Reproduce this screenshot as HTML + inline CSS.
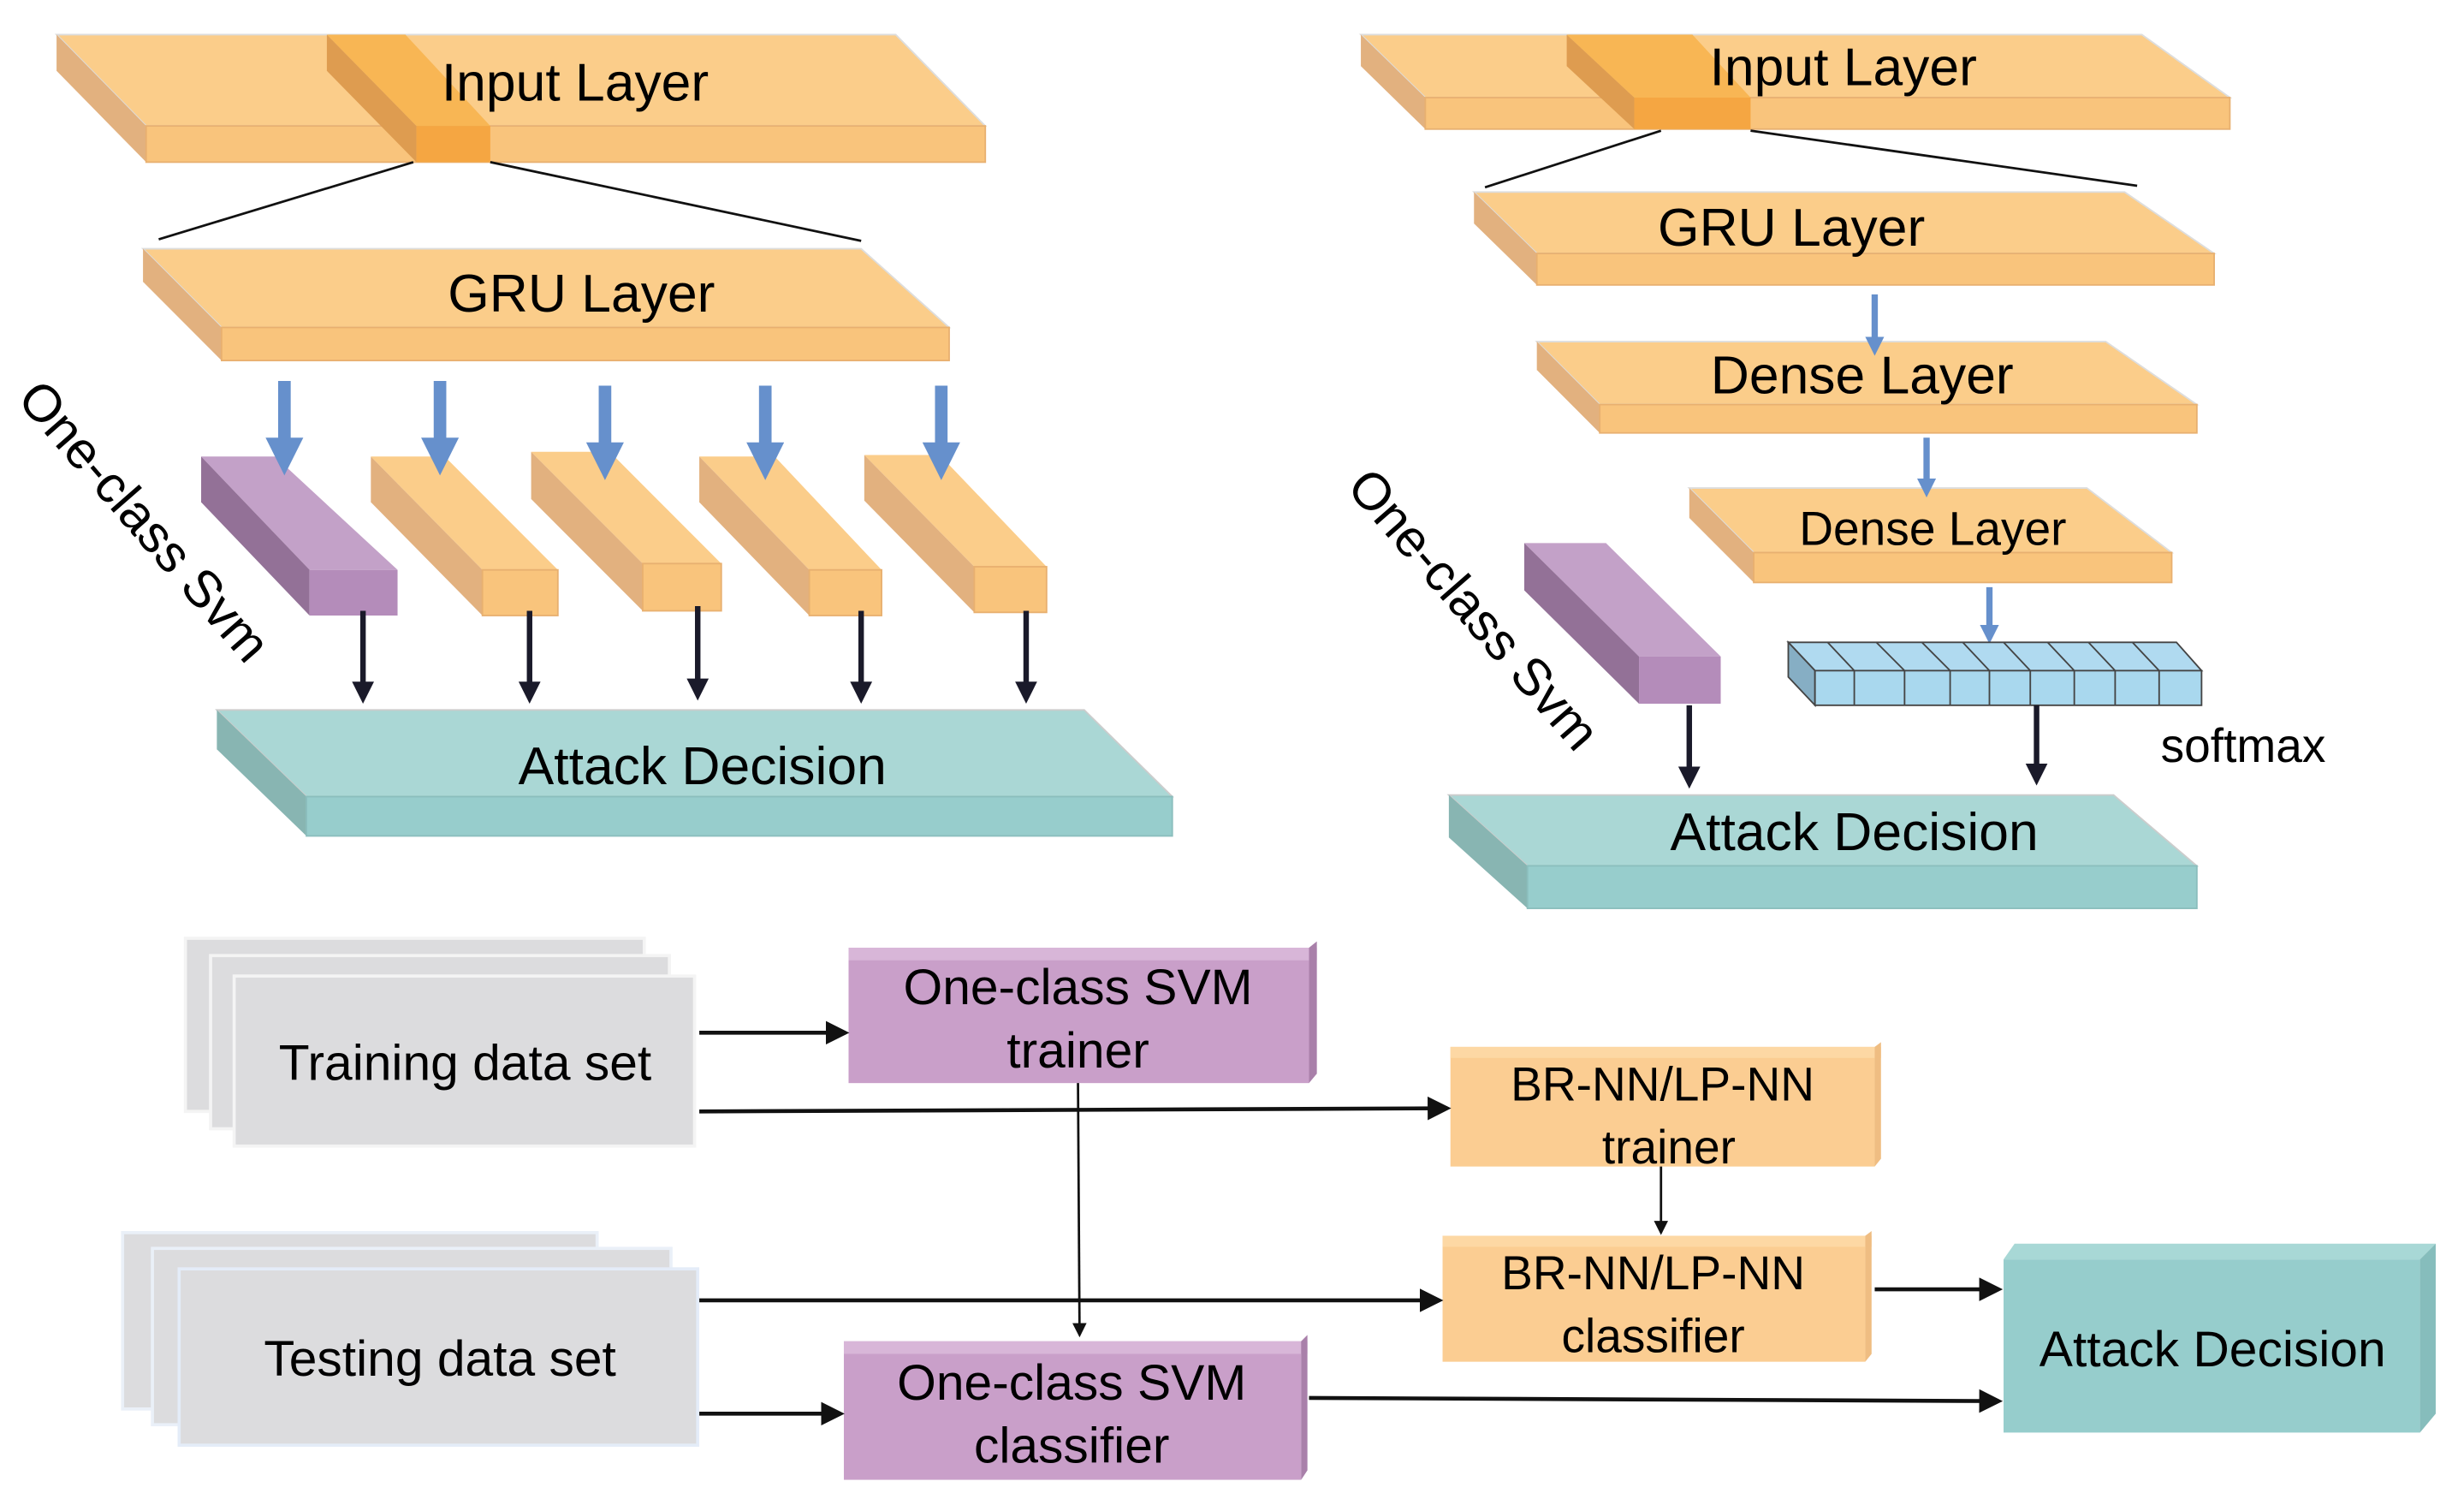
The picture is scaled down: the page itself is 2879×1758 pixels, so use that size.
<!DOCTYPE html>
<html><head><meta charset="utf-8"><style>
html,body{margin:0;padding:0;background:#fff;}
svg{display:block;}
text{font-family:"Liberation Sans",sans-serif;fill:#000;}
</style></head><body>
<svg width="2879" height="1758" viewBox="0 0 1568 956" preserveAspectRatio="none" xmlns="http://www.w3.org/2000/svg">
<defs>
<marker id="ab" markerWidth="4" markerHeight="4" refX="2" refY="2" orient="auto" markerUnits="strokeWidth"><path d="M0,0 L4,2 L0,4 Z" fill="#1a1a2a"/></marker>
<marker id="ak" markerWidth="6" markerHeight="6" refX="5" refY="3" orient="auto" markerUnits="strokeWidth"><path d="M0,0 L6,3 L0,6 Z" fill="#111"/></marker>
<marker id="abl" markerWidth="3" markerHeight="3" refX="1.5" refY="1.5" orient="auto" markerUnits="strokeWidth"><path d="M0,0 L3,1.5 L0,3 Z" fill="#6690cc"/></marker>
</defs>

<polygon points="36,22 570,22 627,80 93,80" fill="#fbcd8a" stroke="#ddd" stroke-width="1"/>
<polygon points="36,22 93,80 93,103 36,45" fill="#e2b17f"/>
<rect x="93" y="80" width="534" height="23" fill="#f9c47c" stroke="#e8b070" stroke-width="1"/>
<polygon points="208,22 258,22 312,80 265,80" fill="#f8b654"/>
<polygon points="208,22 265,80 265,103 208,45" fill="#de9c50"/>
<rect x="265" y="80" width="47" height="23" fill="#f5a642"/>
<text x="366" y="64" font-size="34" text-anchor="middle">Input Layer</text>
<line x1="263" y1="103" x2="101" y2="152" stroke="#111" stroke-width="1.5"/>
<line x1="312" y1="103" x2="548" y2="153" stroke="#111" stroke-width="1.5"/>

<polygon points="91,158 548,158 604,208 141,208" fill="#fbcd8a" stroke="#ddd" stroke-width="1"/>
<polygon points="91,158 141,208 141,229 91,179" fill="#e2b17f"/>
<rect x="141" y="208" width="463" height="21" fill="#f9c47c" stroke="#e8b070" stroke-width="1"/>
<text x="370" y="198" font-size="34" text-anchor="middle">GRU Layer</text>

<polygon points="128,290 175,290 253,362 197,362" fill="#c3a1c8"/>
<polygon points="128,290 197,362 197,391 128,319" fill="#937197"/>
<rect x="197" y="362" width="56" height="29" fill="#b48cba"/>
<g>
<polygon points="236,290 283,290 355,362 307,362" fill="#fbcd8a"/>
<polygon points="236,290 307,362 307,391 236,319" fill="#e2b17f"/>
<rect x="307" y="362" width="48" height="29" fill="#f9c47c" stroke="#e8b070"/>
<polygon points="338,287 388,287 459,358 409,358" fill="#fbcd8a"/>
<polygon points="338,287 409,358 409,388 338,317" fill="#e2b17f"/>
<rect x="409" y="358" width="50" height="30" fill="#f9c47c" stroke="#e8b070"/>
<polygon points="445,290 493,290 561,362 515,362" fill="#fbcd8a"/>
<polygon points="445,290 515,362 515,391 445,319" fill="#e2b17f"/>
<rect x="515" y="362" width="46" height="29" fill="#f9c47c" stroke="#e8b070"/>
<polygon points="550,289 598,289 666,360 620,360" fill="#fbcd8a"/>
<polygon points="550,289 620,360 620,389 550,318" fill="#e2b17f"/>
<rect x="620" y="360" width="46" height="29" fill="#f9c47c" stroke="#e8b070"/>
</g>
<g stroke="#6690cc" stroke-width="8" marker-end="url(#abl)">
<line x1="181" y1="242" x2="181" y2="290"/>
<line x1="280" y1="242" x2="280" y2="290"/>
<line x1="385" y1="245" x2="385" y2="293"/>
<line x1="487" y1="245" x2="487" y2="293"/>
<line x1="599" y1="245" x2="599" y2="293"/>
</g>
<g stroke="#1a1a2a" stroke-width="3.5" marker-end="url(#ab)">
<line x1="231" y1="388" x2="231" y2="440"/>
<line x1="337" y1="388" x2="337" y2="440"/>
<line x1="444" y1="385" x2="444" y2="438"/>
<line x1="548" y1="388" x2="548" y2="440"/>
<line x1="653" y1="388" x2="653" y2="440"/>
</g>
<polygon points="138,451 690,451 746,506 195,506" fill="#aad7d5" stroke="#ccc" stroke-width="1"/>
<polygon points="138,451 195,506 195,531 138,476" fill="#88b5b2"/>
<rect x="195" y="506" width="551" height="25" fill="#97cdcc" stroke="#8bbebd"/>
<text x="447" y="498" font-size="34" text-anchor="middle">Attack Decision</text>
<text x="0" y="0" font-size="33" transform="translate(10,254) rotate(49)">One-class Svm</text>

<polygon points="866,22 1363,22 1419,62 907,62" fill="#fbcd8a" stroke="#ddd"/>
<polygon points="866,22 907,62 907,82 866,42" fill="#e2b17f"/>
<rect x="907" y="62" width="512" height="20" fill="#f9c47c" stroke="#e8b070"/>
<polygon points="997,22 1077,22 1114,62 1040,62" fill="#f8b654"/>
<polygon points="997,22 1040,62 1040,82 997,42" fill="#de9c50"/>
<rect x="1040" y="62" width="74" height="20" fill="#f5a642"/>
<text x="1173" y="54" font-size="34" text-anchor="middle">Input Layer</text>
<line x1="1057" y1="83" x2="945" y2="119" stroke="#111" stroke-width="1.5"/>
<line x1="1114" y1="83" x2="1360" y2="118" stroke="#111" stroke-width="1.5"/>

<polygon points="938,122 1352,122 1409,161 978,161" fill="#fbcd8a" stroke="#ddd"/>
<polygon points="938,122 978,161 978,181 938,142" fill="#e2b17f"/>
<rect x="978" y="161" width="431" height="20" fill="#f9c47c" stroke="#e8b070"/>
<text x="1140" y="156" font-size="34" text-anchor="middle">GRU Layer</text>

<polygon points="978,217 1340,217 1398,257 1018,257" fill="#fbcd8a" stroke="#ddd"/>
<polygon points="978,217 1018,257 1018,275 978,235" fill="#e2b17f"/>
<rect x="1018" y="257" width="380" height="18" fill="#f9c47c" stroke="#e8b070"/>
<text x="1185" y="250" font-size="34" text-anchor="middle">Dense Layer</text>

<polygon points="1075,310 1328,310 1382,351 1116,351" fill="#fbcd8a" stroke="#ddd"/>
<polygon points="1075,310 1116,351 1116,370 1075,329" fill="#e2b17f"/>
<rect x="1116" y="351" width="266" height="19" fill="#f9c47c" stroke="#e8b070"/>
<text x="1230" y="346" font-size="30" text-anchor="middle">Dense Layer</text>

<g stroke="#6690cc" stroke-width="4" marker-end="url(#abl)">
<line x1="1193" y1="187" x2="1193" y2="220"/>
<line x1="1226" y1="278" x2="1226" y2="310"/>
<line x1="1266" y1="373" x2="1266" y2="403"/>
</g>
<polygon points="1138,408 1385,408 1401,426 1155,426" fill="#b0daf0" stroke="#444" stroke-width="1"/>
<polygon points="1138,408 1155,426 1155,448 1138,430" fill="#86aec4" stroke="#444" stroke-width="1"/>
<rect x="1155" y="426" width="246" height="22" fill="#a9d8ee" stroke="#444" stroke-width="1"/>
<g stroke="#444" stroke-width="1">
<line x1="1180" y1="426" x2="1180" y2="448"/><line x1="1163" y1="408" x2="1180" y2="426"/>
<line x1="1212" y1="426" x2="1212" y2="448"/><line x1="1194" y1="408" x2="1212" y2="426"/>
<line x1="1241" y1="426" x2="1241" y2="448"/><line x1="1223" y1="408" x2="1241" y2="426"/>
<line x1="1266" y1="426" x2="1266" y2="448"/><line x1="1249" y1="408" x2="1266" y2="426"/>
<line x1="1292" y1="426" x2="1292" y2="448"/><line x1="1275" y1="408" x2="1292" y2="426"/>
<line x1="1320" y1="426" x2="1320" y2="448"/><line x1="1303" y1="408" x2="1320" y2="426"/>
<line x1="1346" y1="426" x2="1346" y2="448"/><line x1="1329" y1="408" x2="1346" y2="426"/>
<line x1="1374" y1="426" x2="1374" y2="448"/><line x1="1357" y1="408" x2="1374" y2="426"/>
</g>
<text x="1375" y="484" font-size="30">softmax</text>

<polygon points="970,345 1022,345 1095,417 1043,417" fill="#c3a1c8"/>
<polygon points="970,345 1043,417 1043,447 970,375" fill="#937197"/>
<rect x="1043" y="417" width="52" height="30" fill="#b48cba"/>
<text x="0" y="0" font-size="33" transform="translate(856,310) rotate(49)">One-class Svm</text>
<g stroke="#1a1a2a" stroke-width="3.5" marker-end="url(#ab)">
<line x1="1075" y1="448" x2="1075" y2="494"/>
<line x1="1296" y1="448" x2="1296" y2="492"/>
</g>
<polygon points="922,505 1345,505 1398,550 972,550" fill="#aad7d5" stroke="#ccc"/>
<polygon points="922,505 972,550 972,577 922,532" fill="#88b5b2"/>
<rect x="972" y="550" width="426" height="27" fill="#97cdcc" stroke="#8bbebd"/>
<text x="1180" y="540" font-size="34" text-anchor="middle">Attack Decision</text>

<rect x="118" y="596" width="292" height="110" fill="#dcdcde" stroke="#f4f4f4" stroke-width="2"/>
<rect x="134" y="607" width="292" height="110" fill="#dcdcde" stroke="#f4f4f4" stroke-width="2"/>
<rect x="149" y="620" width="293" height="108" fill="#dcdcde" stroke="#f4f4f4" stroke-width="2"/>
<text x="296" y="686" font-size="32" text-anchor="middle">Training data set</text>

<rect x="78" y="783" width="302" height="112" fill="#dcdcde" stroke="#eaf0f8" stroke-width="2"/>
<rect x="97" y="793" width="330" height="112" fill="#dcdcde" stroke="#eaf0f8" stroke-width="2"/>
<rect x="114" y="806" width="330" height="112" fill="#dcdcde" stroke="#e4ecf8" stroke-width="2"/>
<text x="280" y="874" font-size="32" text-anchor="middle">Testing data set</text>

<rect x="540" y="602" width="293" height="86" fill="#c99fc9"/>
<rect x="540" y="602" width="298" height="8" fill="#d8b6d8"/>
<polygon points="833,602 838,598 838,682 833,688" fill="#a980aa"/>
<text x="686" y="638" font-size="32" text-anchor="middle">One-class SVM</text>
<text x="686" y="678" font-size="32" text-anchor="middle">trainer</text>

<rect x="923" y="665" width="270" height="76" fill="#fbcd92"/>
<rect x="923" y="665" width="274" height="7" fill="#fdd8a4"/>
<polygon points="1193,665 1197,662 1197,736 1193,741" fill="#efbd82"/>
<text x="1058" y="699" font-size="30" text-anchor="middle">BR-NN/LP-NN</text>
<text x="1062" y="739" font-size="30" text-anchor="middle">trainer</text>

<rect x="918" y="785" width="269" height="80" fill="#fbcd92"/>
<rect x="918" y="785" width="273" height="7" fill="#fdd8a4"/>
<polygon points="1187,785 1191,782 1191,860 1187,865" fill="#efbd82"/>
<text x="1052" y="819" font-size="30" text-anchor="middle">BR-NN/LP-NN</text>
<text x="1052" y="859" font-size="30" text-anchor="middle">classifier</text>

<rect x="537" y="852" width="291" height="88" fill="#c99fc9"/>
<rect x="537" y="852" width="295" height="8" fill="#d8b6d8"/>
<polygon points="828,852 832,848 832,934 828,940" fill="#a980aa"/>
<text x="682" y="889" font-size="32" text-anchor="middle">One-class SVM</text>
<text x="682" y="929" font-size="32" text-anchor="middle">classifier</text>

<rect x="1275" y="800" width="265" height="110" fill="#96cdcc"/>
<polygon points="1275,800 1282,790 1550,790 1540,800" fill="#a8d8d6"/>
<polygon points="1540,800 1550,790 1550,898 1540,910" fill="#86bdbc"/>
<text x="1408" y="868" font-size="32" text-anchor="middle">Attack Decision</text>

<g stroke="#111" stroke-width="2.5" fill="none" marker-end="url(#ak)">
<line x1="445" y1="656" x2="538" y2="656"/>
<line x1="445" y1="706" x2="921" y2="704"/>
<line x1="445" y1="826" x2="916" y2="826"/>
<line x1="445" y1="898" x2="535" y2="898"/>
<line x1="1193" y1="819" x2="1272" y2="819"/>
<line x1="833" y1="888" x2="1272" y2="890"/>
</g>
<g stroke="#111" stroke-width="1.5" fill="none" marker-end="url(#ak)">
<line x1="686" y1="688" x2="687" y2="848"/>
<line x1="1057" y1="741" x2="1057" y2="783"/>
</g>
</svg>
</body></html>
